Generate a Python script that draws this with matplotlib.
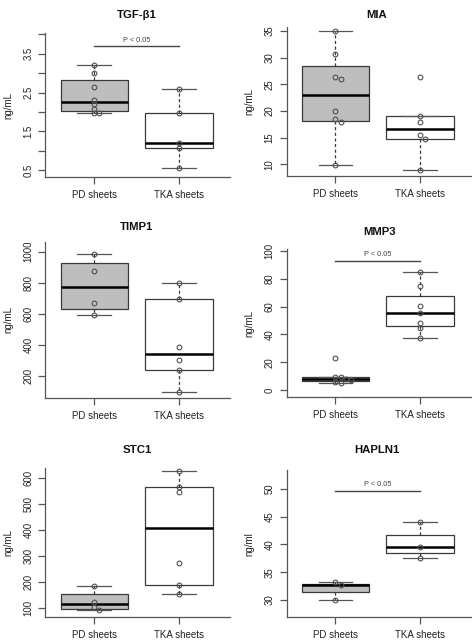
import numpy as np
import matplotlib.pyplot as plt

plt.rcParams['font.family'] = ['Liberation Sans', 'DejaVu Sans']

# ─── Data ───────────────────────────────────────────────
groups = ["PD sheets", "TKA sheets"]

tgf_pd = [3.22, 3.0, 2.65, 2.32, 2.2, 2.07, 1.98, 1.97]
tgf_tka = [2.59, 1.97, 1.2, 1.08, 0.54]

mia_pd = [35.0, 30.6, 26.4, 25.9, 20.05, 18.4, 18.0, 9.9]
mia_tka = [26.3, 19.1, 17.9, 15.45, 14.75, 8.9]

timp1_pd = [983, 873, 667, 592]
timp1_tka = [800, 693, 383, 301, 235, 97]

mmp3_pd = [22.9, 9.8, 9.2, 8.3, 7.4, 6.2, 5.0]
mmp3_tka = [84.8, 75.0, 60.4, 55.6, 48.0, 44.4, 37.3]

stc1_pd = [187, 125, 106, 92]
stc1_tka = [627, 565, 547, 273, 188, 155]

hapln1_pd = [33.2, 32.75, 30.05]
hapln1_tka = [44.0, 39.5, 37.55]

titles = ["TGF-β1", "MIA", "TIMP1", "MMP3", "STC1", "HAPLN1"]
ylabels = ["ng/mL", "ng/mL", "ng/mL", "ng/mL", "ng/mL", "ng/ml"]
sig_label = "P < 0.05"
# significance bar height (data units), None = no bar
sig_levels = [3.69, None, None, 92.8, None, 49.7]

tick_sets = [
    np.arange(0.5, 4.01, 0.5),
    np.arange(10, 36, 5),
    np.arange(200, 1001, 200),
    np.arange(0, 101, 20),
    np.arange(100, 601, 100),
    np.arange(30, 51, 5),
]
shown_ticks = [[0.5, 1.5, 2.5, 3.5], None, None, None, None, None]

# ─── Layout (pixels in a 472x640 figure) ────────────────
W, H = 472, 640
panels = [
    # left, top, right, bottom, ylim, title (x, y)
    (45.4, 33.3, 229.5, 177.0, (0.32, 4.03), (137, 15)),
    (286.5, 26.7, 470.5, 176.0, (7.8, 35.8), (377, 15)),
    (45.4, 241.7, 229.5, 397.7, (58, 1064), (137, 227)),
    (286.5, 249.3, 470.5, 396.7, (-4.6, 101), (379, 232)),
    (45.4, 468.3, 229.5, 616.7, (68, 638), (137, 450)),
    (286.5, 470.0, 470.5, 617.3, (26.9, 53.4), (377, 450)),
]
data = [(tgf_pd, tgf_tka), (mia_pd, mia_tka), (timp1_pd, timp1_tka),
        (mmp3_pd, mmp3_tka), (stc1_pd, stc1_tka), (hapln1_pd, hapln1_tka)]

fills = ["#bebebe", "white"]
line_col = "#3a3a3a"
axis_col = "#555555"
text_col = "#222222"


def fivenum(x):
    # same hinges as R's boxplot.stats
    x = np.sort(np.asarray(x, float))
    n = len(x)
    n4 = np.floor((n + 3) / 2) / 2
    d = np.array([1, n4, (n + 1) / 2, n + 1 - n4, n])
    return 0.5 * (x[np.floor(d).astype(int) - 1] + x[np.ceil(d).astype(int) - 1])


def box_stats(x):
    x = np.asarray(x, float)
    lo, q1, med, q3, hi = fivenum(x)
    iqr = q3 - q1
    inside = x[(x >= q1 - 1.5 * iqr) & (x <= q3 + 1.5 * iqr)]
    return dict(med=med, q1=q1, q3=q3, whislo=inside.min(), whishi=inside.max(), fliers=[])


def spread(vals, span):
    # nudge points that would sit on top of each other
    xs = []
    placed = []
    for v in vals:
        off = 0.0
        for pv, po in placed:
            if abs(pv - v) < 0.025 * span and abs(po - off) < 0.05:
                off += 0.06
        placed.append((v, off))
        xs.append(off)
    return np.array(xs)


fig = plt.figure(figsize=(W / 100, H / 100), dpi=100)

for i, (left, top, right, bottom, ylim, tpos) in enumerate(panels):
    ax = fig.add_axes([left / W, 1 - bottom / H, (right - left) / W, (bottom - top) / H])
    ax.set_xlim(0.42, 2.6)
    ax.set_ylim(*ylim)

    stats = [box_stats(g) for g in data[i]]
    bp = ax.bxp(stats, positions=[1, 2], widths=0.8, capwidths=0.4,
                patch_artist=True, showfliers=False,
                boxprops=dict(edgecolor=line_col, linewidth=0.9),
                whiskerprops=dict(color=line_col, linewidth=0.9, linestyle=(0, (2.5, 2))),
                capprops=dict(color="#555555", linewidth=0.9),
                medianprops=dict(color="black", linewidth=1.8))
    for patch, fc in zip(bp["boxes"], fills):
        patch.set_facecolor(fc)

    span = ylim[1] - ylim[0]
    for pos, g in zip([1, 2], data[i]):
        xs = pos + spread(g, span)
        ax.plot(xs, g, "o", ms=3.4, mfc="none", mec="#505050", mew=0.8, zorder=5)

    if sig_levels[i] is not None:
        ax.plot([1, 2], [sig_levels[i]] * 2, color="#444444", lw=1.0)
        ax.text(1.5, sig_levels[i] + 0.02 * span, sig_label, ha="center", va="bottom",
                fontsize=5.3, color="#444444")

    # R-style L-shaped frame
    for s in ["top", "right"]:
        ax.spines[s].set_visible(False)
    for s in ["left", "bottom"]:
        ax.spines[s].set_color(axis_col)
        ax.spines[s].set_linewidth(0.9)

    ax.set_xticks([1, 2])
    ax.set_xticklabels(groups)
    ax.set_yticks(tick_sets[i])
    if shown_ticks[i] is not None:
        ax.set_yticklabels([f"{t:g}" if t in shown_ticks[i] else "" for t in tick_sets[i]])
    else:
        ax.set_yticklabels([f"{t:g}" for t in tick_sets[i]])
    ax.tick_params(axis="x", length=5, width=0.9, color=axis_col, pad=4.3,
                   labelsize=7, labelcolor=text_col)
    ax.tick_params(axis="y", length=5, width=0.9, color=axis_col, pad=3.5,
                   labelsize=6.9, labelcolor=text_col, labelrotation=90)
    for lab in ax.get_yticklabels():
        lab.set_va("center")

    ax.text(-37 / (right - left), 0.5, ylabels[i], transform=ax.transAxes, rotation=90,
            ha="center", va="center", fontsize=7, color=text_col)
    fig.text(tpos[0] / W, 1 - tpos[1] / H, titles[i], ha="center", va="center",
             fontsize=8.2, fontweight="bold", color="#111111")

fig.savefig("out.png", dpi=100)
